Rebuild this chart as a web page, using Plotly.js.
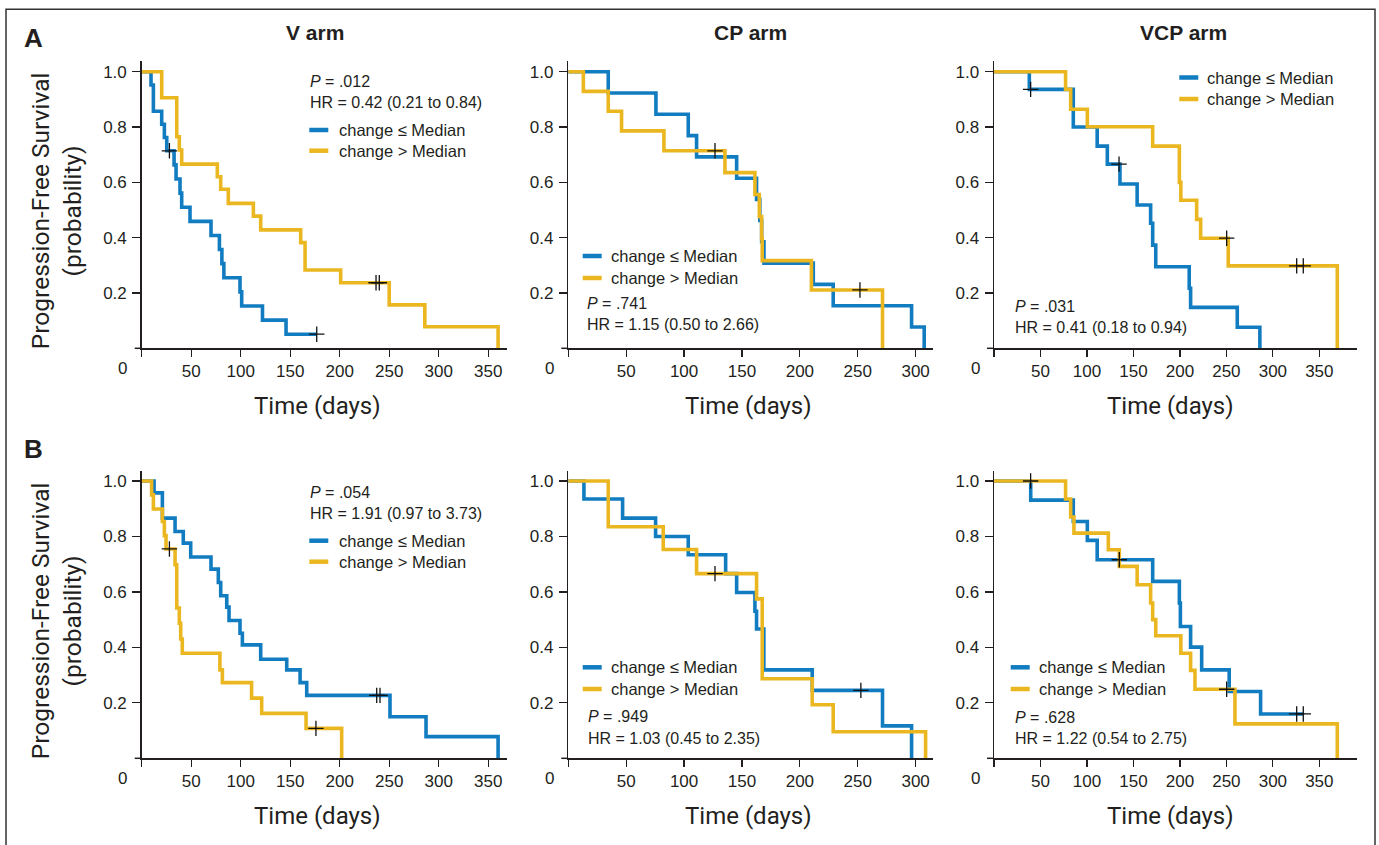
<!DOCTYPE html>
<html><head><meta charset="utf-8">
<script src="https://cdn.plot.ly/plotly-3.0.1.min.js"></script>
<style>html,body{margin:0;padding:0;background:#fff}#chart{width:1379px;height:845px}</style>
</head><body><div id="chart"></div>
<script>
// ---------- text data ----------
const armTitles = ['V arm', 'CP arm', 'VCP arm'];
const rowLabels = ['A', 'B'];
const seriesNames = ['change \u2264 Median', 'change > Median'];
const pValues = ['.012', '.741', '.031', '.054', '.949', '.628'];
const hrTexts = ['0.42 (0.21 to 0.84)', '1.15 (0.50 to 2.66)', '0.41 (0.18 to 0.94)',
                 '1.91 (0.97 to 3.73)', '1.03 (0.45 to 2.35)', '1.22 (0.54 to 2.75)'];
const xTicksV = [0, 50, 100, 150, 200, 250, 300, 350];
const xTicksCP = [0, 50, 100, 150, 200, 250, 300];
const yTicks = [0.2, 0.4, 0.6, 0.8, 1.0];
const yTickText = ['0.2', '0.4', '0.6', '0.8', '1.0'];

// ---------- Kaplan-Meier data (time in days, survival probability, censor times) ----------
// Row A, V arm
const aV_lo_t = [0, 9.4, 11.8, 20.2, 22.9, 25.3, 32.7, 34.7, 38.7, 40.4, 48.8, 70, 78.5, 81, 83, 99.3, 101, 122, 145.8, 176.8];
const aV_lo_s = [1, 0.952, 0.857, 0.81, 0.762, 0.714, 0.663, 0.612, 0.561, 0.51, 0.459, 0.408, 0.357, 0.306, 0.255, 0.204, 0.153, 0.102, 0.051, 0.051];
const aV_lo_c = [28, 176.8];
const aV_hi_t = [0, 20.2, 35.4, 38, 40.4, 76.4, 79.8, 87.5, 112.8, 120.2, 160.6, 165, 201, 250, 286, 360];
const aV_hi_s = [1, 0.906, 0.765, 0.717, 0.666, 0.62, 0.575, 0.524, 0.478, 0.428, 0.382, 0.283, 0.237, 0.157, 0.078, 0];
const aV_hi_c = [236.7, 240];
// Row A, CP arm
const aCP_lo_t = [0, 34.5, 75.7, 103.6, 110.8, 145.4, 162.6, 165.4, 167, 169, 211.6, 228.8, 296.5, 307.4];
const aCP_lo_s = [1, 0.923, 0.846, 0.769, 0.692, 0.615, 0.538, 0.462, 0.385, 0.308, 0.231, 0.154, 0.077, 0];
const aCP_lo_c = [];
const aCP_hi_t = [0, 13, 34.5, 46, 82.6, 135.3, 161.2, 165, 167, 167.5, 210, 271.4];
const aCP_hi_s = [1, 0.929, 0.857, 0.786, 0.714, 0.635, 0.556, 0.476, 0.397, 0.317, 0.211, 0];
const aCP_hi_c = [126.7, 251.9];
// Row A, VCP arm
const aVCP_lo_t = [0, 38, 85.3, 111, 121.9, 135.5, 154, 168.5, 170.7, 174, 210, 211.5, 261.7, 286];
const aVCP_lo_s = [1, 0.936, 0.80, 0.731, 0.666, 0.594, 0.518, 0.452, 0.373, 0.295, 0.217, 0.148, 0.076, 0];
const aVCP_lo_c = [39.4, 134.5];
const aVCP_hi_t = [0, 77, 82.5, 100.4, 170.7, 199.4, 201, 218, 222.3, 252, 369.3];
const aVCP_hi_s = [1, 0.936, 0.864, 0.801, 0.731, 0.6, 0.535, 0.466, 0.398, 0.298, 0];
const aVCP_hi_c = [250.3, 325.6, 332.7];
// Row B, V arm
const bV_lo_t = [0, 12.5, 20.9, 33.7, 42, 49.5, 70, 77.4, 79.8, 85.9, 88.2, 99.3, 101.7, 120.2, 146.5, 160, 166.7, 250.8, 287.2, 360];
const bV_lo_s = [1, 0.957, 0.866, 0.818, 0.776, 0.726, 0.682, 0.634, 0.586, 0.545, 0.497, 0.451, 0.409, 0.357, 0.319, 0.273, 0.227, 0.150, 0.078, 0];
const bV_lo_c = [237.4, 240.7];
const bV_hi_t = [0, 10, 11.8, 20.9, 22.9, 24.6, 33.7, 35.4, 38, 39.4, 41, 79, 81.5, 111, 121.2, 166, 202];
const bV_hi_s = [1, 0.95, 0.899, 0.854, 0.803, 0.755, 0.698, 0.542, 0.487, 0.43, 0.379, 0.319, 0.273, 0.217, 0.162, 0.108, 0];
const bV_hi_c = [28, 176];
// Row B, CP arm
const bCP_lo_t = [0, 13.5, 46.9, 75.4, 103.6, 135.9, 145.4, 161.2, 162.6, 168.9, 210.7, 271.4, 296.5];
const bCP_lo_s = [1, 0.935, 0.866, 0.8, 0.734, 0.666, 0.598, 0.53, 0.466, 0.319, 0.245, 0.117, 0];
const bCP_lo_c = [252.7];
const bCP_hi_t = [0, 34.5, 82, 110.8, 162.6, 167.5, 210.7, 228.8, 308.6];
const bCP_hi_s = [1, 0.835, 0.753, 0.666, 0.575, 0.287, 0.193, 0.096, 0];
const bCP_hi_c = [126.7];
// Row B, VCP arm
const bVCP_lo_t = [0, 39.5, 85.3, 100.4, 111, 170.7, 199.4, 200.5, 211.5, 223.4, 253, 286.8, 332.7];
const bVCP_lo_s = [1, 0.931, 0.854, 0.786, 0.716, 0.638, 0.56, 0.475, 0.401, 0.319, 0.241, 0.16, 0.16];
const bVCP_lo_c = [39.4, 134.8, 325.6, 332.7];
const bVCP_hi_t = [0, 77, 82.5, 86, 123, 134.8, 154, 168.5, 170.7, 174, 201, 211.5, 216.2, 259.2, 369.3];
const bVCP_hi_s = [1, 0.935, 0.87, 0.812, 0.752, 0.692, 0.626, 0.56, 0.5, 0.442, 0.379, 0.317, 0.249, 0.124, 0];
const bVCP_hi_c = [250.3];

const panels = [
  {lo: [aV_lo_t, aV_lo_s, aV_lo_c], hi: [aV_hi_t, aV_hi_s, aV_hi_c]},
  {lo: [aCP_lo_t, aCP_lo_s, aCP_lo_c], hi: [aCP_hi_t, aCP_hi_s, aCP_hi_c]},
  {lo: [aVCP_lo_t, aVCP_lo_s, aVCP_lo_c], hi: [aVCP_hi_t, aVCP_hi_s, aVCP_hi_c]},
  {lo: [bV_lo_t, bV_lo_s, bV_lo_c], hi: [bV_hi_t, bV_hi_s, bV_hi_c]},
  {lo: [bCP_lo_t, bCP_lo_s, bCP_lo_c], hi: [bCP_hi_t, bCP_hi_s, bCP_hi_c]},
  {lo: [bVCP_lo_t, bVCP_lo_s, bVCP_lo_c], hi: [bVCP_hi_t, bVCP_hi_s, bVCP_hi_c]}
];

// ---------- layout geometry (pixels) ----------
const W = 1379, H = 845;
const px = x => x / W, py = y => 1 - y / H;
const BLUE = '#127cc1', YELLOW = '#ebb721', INK = '#231f20';
const TXT = 'Liberation Sans, Arial, sans-serif';
const TITLEF = 'Roboto, Liberation Sans, sans-serif';
const cols = [
  {x0: 141.7, x1: 507, xmax: 369, ticks: xTicksV, tx: 317.5},
  {x0: 568.3, x1: 933, xmax: 315, ticks: xTicksCP, tx: 748},
  {x0: 994, x1: 1357, xmax: 390.5, ticks: xTicksV, tx: 1170}
];
const rows = [
  {top: 61, bottom: 348.3, ymax: 1.0387, ty: 406, lab: 37.5},
  {top: 471, bottom: 758.3, ymax: 1.036, ty: 816, lab: 449}
];
const statPos = [
  {px: 308.3, pY: 81.7, hY: 102.7, lx: 309.3, l1: 130, l2: 150.7, tx: 336.7},
  {px: 585, pY: 303.3, hY: 325, lx: 582.7, l1: 256, l2: 278, tx: 609.3},
  {px: 1013.3, pY: 306.7, hY: 327.5, lx: 1179.3, l1: 77.5, l2: 99, tx: 1205},
  {px: 308.3, pY: 492.7, hY: 513.5, lx: 309.3, l1: 540.7, l2: 561.7, tx: 336.7},
  {px: 586, pY: 716.7, hY: 738.3, lx: 582.7, l1: 667.3, l2: 689, tx: 609.3},
  {px: 1013.3, pY: 717.3, hY: 738.3, lx: 1010.7, l1: 667.3, l2: 689, tx: 1036.7}
];

function stepAt(t, s, tc) {
  let v = s[0];
  for (let i = 0; i < t.length; i++) { if (t[i] <= tc) v = s[i]; }
  return v;
}

const traces = [];
const layout = {
  width: W, height: H, margin: {l: 0, r: 0, t: 0, b: 0},
  paper_bgcolor: '#fff', plot_bgcolor: 'rgba(0,0,0,0)',
  showlegend: false, annotations: [], shapes: []
};

panels.forEach((p, k) => {
  const r = Math.floor(k / 3), c = k % 3;
  const col = cols[c], row = rows[r];
  const n = k + 1, sx = n === 1 ? '' : String(n);
  const xa = 'x' + sx, ya = 'y' + sx;
  layout['xaxis' + sx] = {
    domain: [px(col.x0), px(col.x1)], range: [0, col.xmax], anchor: ya,
    tickvals: col.ticks, ticktext: col.ticks.map(v => v === 0 ? '' : String(v)),
    showline: true, linecolor: INK, linewidth: 1.5, ticks: 'outside', ticklen: 7,
    tickwidth: 1.2, tickcolor: INK, showgrid: false, zeroline: false,
    tickfont: {family: TXT, size: 17, color: INK}, fixedrange: true
  };
  layout['yaxis' + sx] = {
    domain: [py(row.bottom), py(row.top)], range: [0, row.ymax], anchor: xa,
    tickvals: yTicks, ticktext: yTickText,
    showline: true, linecolor: INK, linewidth: 1.5, ticks: 'outside', ticklen: 8,
    tickwidth: 1.2, tickcolor: INK, showgrid: false, zeroline: false,
    tickfont: {family: TXT, size: 17, color: INK}, ticklabelstandoff: 2, fixedrange: true
  };
  [['lo', BLUE, 0], ['hi', YELLOW, 1]].forEach(([key, color, si]) => {
    const [t, s] = p[key];
    traces.push({x: t, y: s, xaxis: xa, yaxis: ya, mode: 'lines', name: seriesNames[si],
      line: {shape: 'hv', color: color, width: 3.6}, hoverinfo: 'skip'});
  });
  ['lo', 'hi'].forEach(key => {
    const [t, s, cens] = p[key];
    if (!cens.length) return;
    traces.push({x: cens, y: cens.map(tc => stepAt(t, s, tc)), xaxis: xa, yaxis: ya,
      mode: 'markers', cliponaxis: false, hoverinfo: 'skip',
      marker: {symbol: 'cross-thin', size: 11, line: {color: '#111', width: 1.3}}});
  });
  // x-axis extension to the left of the y axis
  layout.shapes.push({type: 'line', xref: 'paper', yref: 'paper',
    x0: px(col.x0 - 7), x1: px(col.x0), y0: py(row.bottom), y1: py(row.bottom),
    line: {color: INK, width: 1.5}});
  // "0" tick label offset to the left
  layout.annotations.push({xref: 'paper', yref: 'paper', x: px(col.x0 - 19), y: py(row.bottom + 20.5),
    text: '0', showarrow: false, xanchor: 'center', yanchor: 'middle',
    font: {family: TXT, size: 17, color: INK}});
  // x-axis title
  layout.annotations.push({xref: 'paper', yref: 'paper', x: px(col.tx), y: py(row.ty),
    text: 'Time (days)', showarrow: false, xanchor: 'center', yanchor: 'middle',
    font: {family: TITLEF, size: 24, color: INK}});
  // statistics and legend
  const sp = statPos[k];
  layout.annotations.push({xref: 'paper', yref: 'paper', x: px(sp.px), y: py(sp.pY),
    text: '<i>P</i> = ' + pValues[k], showarrow: false, xanchor: 'left', yanchor: 'middle',
    font: {family: TXT, size: 16, color: INK}});
  layout.annotations.push({xref: 'paper', yref: 'paper', x: px(sp.px), y: py(sp.hY),
    text: 'HR = ' + hrTexts[k], showarrow: false, xanchor: 'left', yanchor: 'middle',
    font: {family: TXT, size: 16, color: INK}});
  [[sp.l1, BLUE, 0], [sp.l2, YELLOW, 1]].forEach(([ly, color, si]) => {
    layout.shapes.push({type: 'line', xref: 'paper', yref: 'paper',
      x0: px(sp.lx), x1: px(sp.lx + 19), y0: py(ly), y1: py(ly), line: {color: color, width: 4.5}});
    layout.annotations.push({xref: 'paper', yref: 'paper', x: px(sp.tx), y: py(ly),
      text: seriesNames[si], showarrow: false, xanchor: 'left', yanchor: 'middle',
      font: {family: TXT, size: 16.5, color: INK}});
  });
});

// column titles
cols.forEach((col, c) => {
  layout.annotations.push({xref: 'paper', yref: 'paper', x: px([315, 750, 1183][c]), y: py(32.5),
    text: '<b>' + armTitles[c] + '</b>', showarrow: false, xanchor: 'center', yanchor: 'middle',
    font: {family: TXT, size: 21, color: INK}});
});
// row labels and y-axis titles
rows.forEach((row, r) => {
  layout.annotations.push({xref: 'paper', yref: 'paper', x: px(33), y: py(row.lab),
    text: '<b>' + rowLabels[r] + '</b>', showarrow: false, xanchor: 'center', yanchor: 'middle',
    font: {family: TXT, size: 26, color: INK}});
  layout.annotations.push({xref: 'paper', yref: 'paper', x: px(56.5), y: py((row.top + row.bottom) / 2 + 6),
    text: 'Progression-Free Survival<br>(probability)', showarrow: false, textangle: -90,
    xanchor: 'center', yanchor: 'middle',
    font: {family: TITLEF, size: 24.5, color: INK}});
});
// frame
layout.shapes.push({type: 'rect', xref: 'paper', yref: 'paper',
  x0: px(6), x1: px(1375), y0: py(855), y1: py(9.3), line: {color: '#333', width: 1.5}});

Plotly.newPlot('chart', traces, layout, {staticPlot: true, displayModeBar: false});
</script></body></html>
